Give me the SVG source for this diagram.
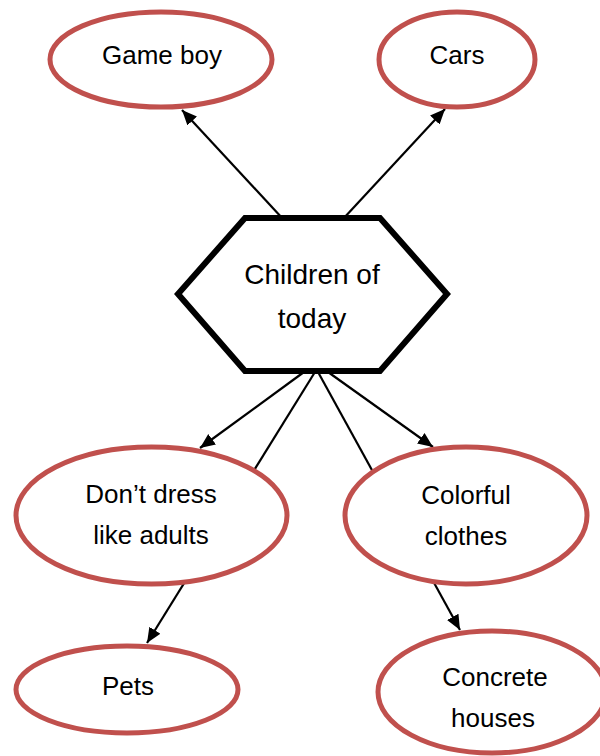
<svg xmlns="http://www.w3.org/2000/svg" width="600" height="756" viewBox="0 0 600 756">
<style>
.node{fill:#fff;stroke:#C0504D;stroke-width:5}
.hex{fill:#fff;stroke:#000;stroke-width:6;stroke-linejoin:miter}
.lbl{font-family:"Liberation Sans",Arial,sans-serif;font-size:26px;fill:#000;text-anchor:middle}
.big{font-size:28px}
.edge{stroke:#000;stroke-width:2.2;fill:none}
</style>
<defs>
<marker id="ah" markerUnits="userSpaceOnUse" markerWidth="16" markerHeight="14" refX="15" refY="6.5" orient="auto">
<path d="M0,0 L15,6.5 L0,13 z" fill="#000"/>
</marker>
</defs>
<rect width="600" height="756" fill="#fff"/>
<g id="connectors">
<line class="edge" x1="283" y1="219" x2="182" y2="110" marker-end="url(#ah)"/>
<line class="edge" x1="343" y1="219" x2="445" y2="109" marker-end="url(#ah)"/>
<line class="edge" x1="304" y1="372" x2="200" y2="448" marker-end="url(#ah)"/>
<line class="edge" x1="315" y1="372" x2="147" y2="643" marker-end="url(#ah)"/>
<line class="edge" x1="318" y1="372" x2="460" y2="630" marker-end="url(#ah)"/>
<line class="edge" x1="328" y1="372" x2="433" y2="447" marker-end="url(#ah)"/>
</g>
<g id="gameboy">
<ellipse class="node" cx="161" cy="59.5" rx="111" ry="47.5"/>
<text class="lbl" x="162" y="64">Game boy</text>
</g>
<g id="cars">
<ellipse class="node" cx="457" cy="59.5" rx="78" ry="47.5"/>
<text class="lbl" x="457" y="64">Cars</text>
</g>
<g id="children">
<polygon class="hex" points="245,218 380,218 447,294 380,371 245,371 178,294"/>
<text class="lbl big" x="312" y="284">Children of</text>
<text class="lbl big" x="312" y="328">today</text>
</g>
<g id="dontdress">
<ellipse class="node" cx="151.5" cy="515.5" rx="135.5" ry="68.5"/>
<text class="lbl" x="151" y="503">Don’t dress</text>
<text class="lbl" x="151" y="544">like adults</text>
</g>
<g id="colorful">
<ellipse class="node" cx="466" cy="515.5" rx="121" ry="68.5"/>
<text class="lbl" x="466" y="504">Colorful</text>
<text class="lbl" x="466" y="545">clothes</text>
</g>
<g id="pets">
<ellipse class="node" cx="127" cy="689.5" rx="111" ry="43.5"/>
<text class="lbl" x="128" y="695">Pets</text>
</g>
<g id="concrete">
<ellipse class="node" cx="492" cy="692" rx="114" ry="61"/>
<text class="lbl" x="495" y="686">Concrete</text>
<text class="lbl" x="493" y="727">houses</text>
</g>
</svg>
